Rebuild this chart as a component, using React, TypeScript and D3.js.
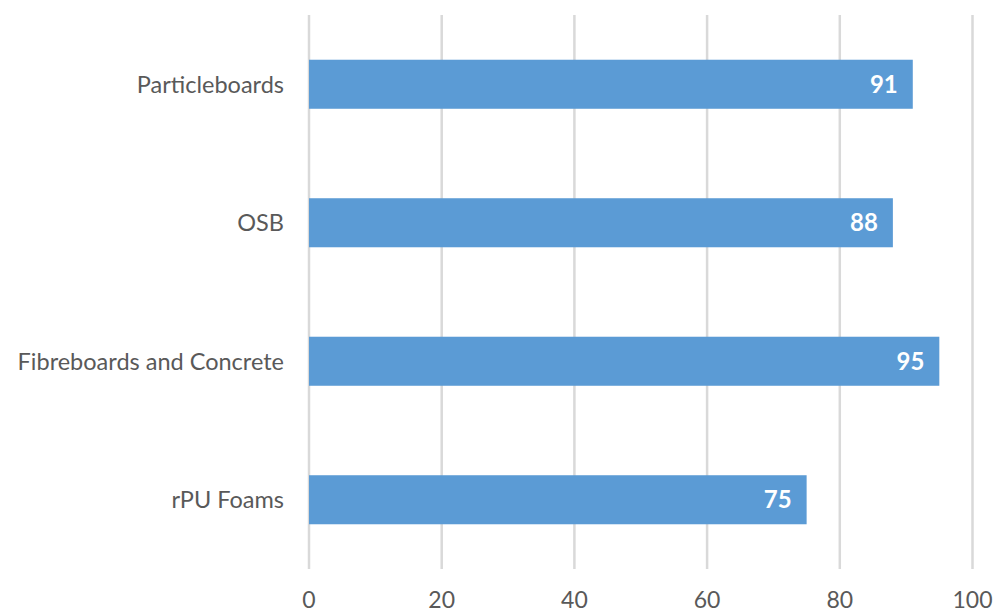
import React from "react";
import * as d3 from "d3";

const categories = ["Particleboards", "OSB", "Fibreboards and Concrete", "rPU Foams"];
const values = [91, 88, 95, 75];
const tickValues = [0, 20, 40, 60, 80, 100];

const W = 994;
const H = 612;

export default function App() {
  const x = d3.scaleLinear().domain([0, 100]).range([309, 972.5]);
  const y = d3
    .scaleBand<string>()
    .domain(categories)
    .range([15, 569])
    .paddingInner(0.646)
    .paddingOuter(0.323);
  const font = "Lato, 'Open Sans', sans-serif";
  return (
    <svg width={W} height={H} style={{ position: "absolute", left: 0, top: 0, background: "#fff" }}>
      {tickValues.map((t) => (
        <line key={"g" + t} x1={x(t)} x2={x(t)} y1={15} y2={569} stroke="#D9D9D9" strokeWidth={2.5} />
      ))}
      {categories.map((c, i) => (
        <rect key={"b" + c} x={x(0)} y={y(c)!} width={x(values[i]) - x(0)} height={y.bandwidth()} fill="#5B9BD5" />
      ))}
      {categories.map((c, i) => (
        <text
          key={"v" + c}
          x={x(values[i]) - 15}
          y={y(c)! + y.bandwidth() / 2}
          dy="0.36em"
          textAnchor="end"
          fill="#fff"
          fontWeight="bold"
          fontSize={24}
          fontFamily={font}
        >
          {values[i]}
        </text>
      ))}
      {categories.map((c) => (
        <text
          key={"c" + c}
          x={284}
          y={y(c)! + y.bandwidth() / 2}
          dy="0.36em"
          textAnchor="end"
          fill="#595959"
          fontSize={23.5}
          fontFamily={font}
        >
          {c}
        </text>
      ))}
      {tickValues.map((t) => (
        <text key={"t" + t} x={x(t)} y={608} textAnchor="middle" fill="#595959" fontSize={23} fontFamily={font}>
          {t}
        </text>
      ))}
    </svg>
  );
}
